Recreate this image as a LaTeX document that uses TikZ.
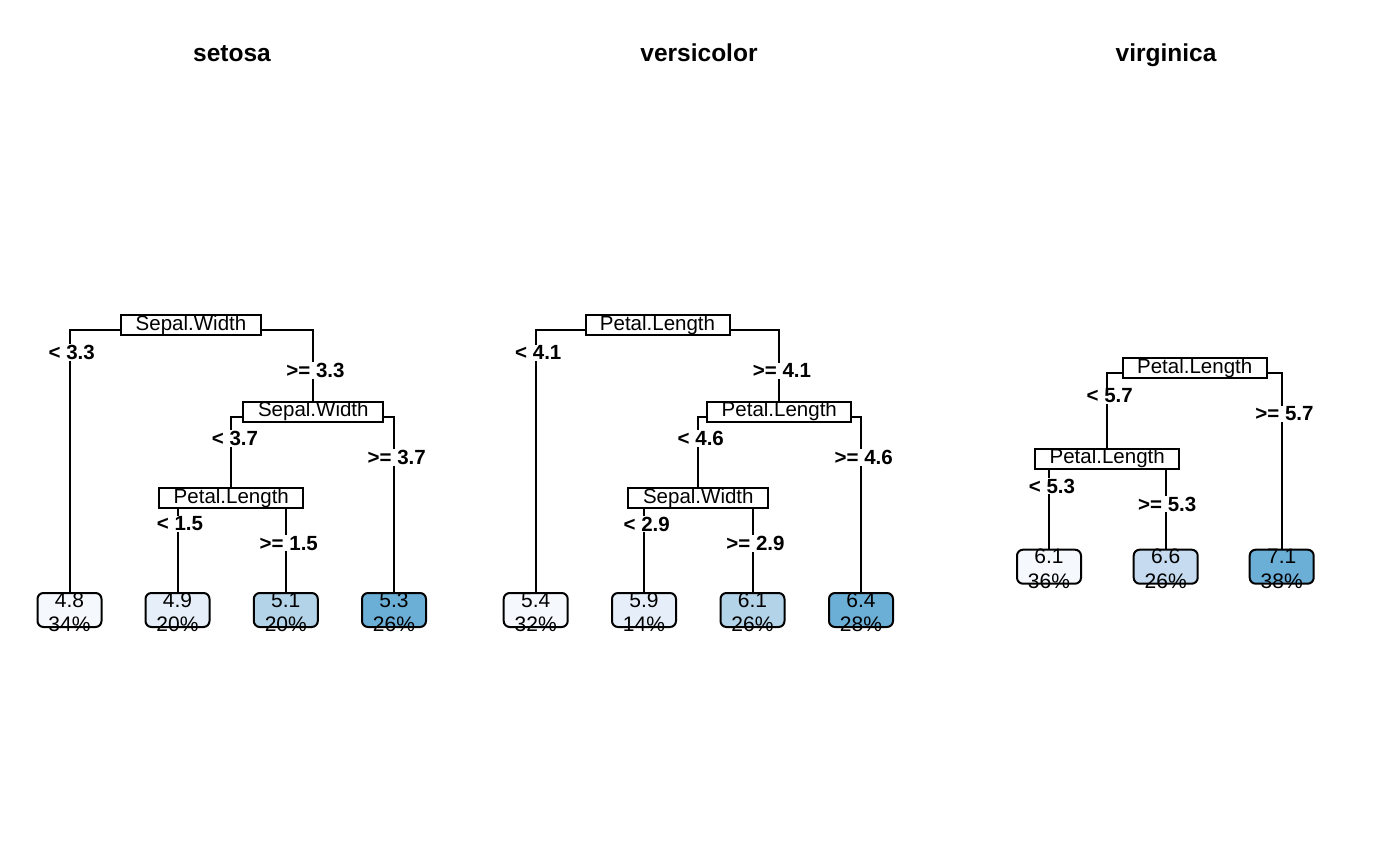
\documentclass[tikz,border=0pt]{standalone}
\usepackage{fontspec}
\setmainfont{Liberation Sans}
\usetikzlibrary{backgrounds}
\definecolor{c1}{HTML}{F5F9FE}
\definecolor{c2}{HTML}{E6EFF9}
\definecolor{c3}{HTML}{B3D3E8}
\definecolor{c4}{HTML}{6BAED6}
\definecolor{c5}{HTML}{C6DBEF}
\tikzset{
  splitbox/.style={draw, line width=2pt, fill=white, inner xsep=0pt, inner ysep=0pt,
    minimum height=20pt, text height=14.5pt, text depth=4pt, font=\fontsize{20.5}{24}\selectfont},
  leafbox/.style={draw, line width=2pt, rounded corners=6pt, minimum width=64pt, minimum height=34pt, inner sep=0pt},
  leaftxt/.style={anchor=base, inner sep=0pt, font=\fontsize{21}{24}\selectfont},
  cond/.style={fill=white, inner xsep=0.5pt, inner ysep=1pt, font=\fontsize{20.5}{24}\bfseries\selectfont},
  ttl/.style={anchor=base, font=\fontsize{24.5}{28}\bfseries\selectfont},
  edge/.style={line width=2pt}
}
\begin{document}
\begin{tikzpicture}[x=1pt,y=-1pt]
\useasboundingbox (0,0) rectangle (1400,866);
% titles
\node[ttl] (t1) at (232,62) {setosa};
\node[ttl] (t2) at (699,62) {versicolor};
\node[ttl] (t3) at (1166,62) {virginica};

% ---------- setosa ----------
\node[splitbox, minimum width=140pt] (s1) at (191,325.5) {Sepal.Width};
\node[splitbox, minimum width=140pt] (s2) at (313.3,411.7) {Sepal.Width};
\node[splitbox, minimum width=144pt] (s3) at (231.3,498) {Petal.Length};
\node[leafbox, fill=c1] (L1) at (69.5,610) {};
\node[leafbox, fill=c2] (L2) at (177.5,610) {};
\node[leafbox, fill=c3] (L3) at (285.8,610) {};
\node[leafbox, fill=c4] (L4) at (394,610) {};
\coordinate (s1j) at ([yshift=-4.5pt]s1.center);
\coordinate (s2j) at ([yshift=-5pt]s2.center);
\coordinate (s3j) at ([yshift=-5pt]s3.center);

% ---------- versicolor ----------
\node[splitbox, minimum width=144pt] (v1) at (657.5,325.5) {Petal.Length};
\node[splitbox, minimum width=144pt] (v2) at (779.3,411.7) {Petal.Length};
\node[splitbox, minimum width=140pt] (v3) at (698.3,498) {Sepal.Width};
\node[leafbox, fill=c1] (V1) at (535.7,610) {};
\node[leafbox, fill=c2] (V2) at (644,610) {};
\node[leafbox, fill=c3] (V3) at (752.5,610) {};
\node[leafbox, fill=c4] (V4) at (861,610) {};
\coordinate (v1j) at ([yshift=-4.5pt]v1.center);
\coordinate (v2j) at ([yshift=-5pt]v2.center);
\coordinate (v3j) at ([yshift=-5pt]v3.center);

% ---------- virginica ----------
\node[splitbox, minimum width=144pt] (g1) at (1194.7,368.3) {Petal.Length};
\node[splitbox, minimum width=144pt] (g2) at (1107.2,458.7) {Petal.Length};
\node[leafbox, fill=c1] (G1) at (1049,566.7) {};
\node[leafbox, fill=c5] (G2) at (1165.7,566.7) {};
\node[leafbox, fill=c4] (G3) at (1281.7,566.7) {};
\coordinate (g1j) at ([yshift=-4.5pt]g1.center);
\coordinate (g2j) at ([yshift=-5pt]g2.center);

\begin{pgfonlayer}{background}
\draw[edge] (s1j) -| (L1.north);
\draw[edge] (s1j) -| (s2.north);
\draw[edge] (s2j) -| (s3.north);
\draw[edge] (s2j) -| (L4.north);
\draw[edge] (s3j) -| (L2.north);
\draw[edge] (s3j) -| (L3.north);
\draw[edge] (v1j) -| (V1.north);
\draw[edge] (v1j) -| (v2.north);
\draw[edge] (v2j) -| (v3.north);
\draw[edge] (v2j) -| (V4.north);
\draw[edge] (v3j) -| (V2.north);
\draw[edge] (v3j) -| (V3.north);
\draw[edge] (g1j) -| (g2.north);
\draw[edge] (g1j) -| (G3.north);
\draw[edge] (g2j) -| (G1.north);
\draw[edge] (g2j) -| (G2.north);
\end{pgfonlayer}

% leaf texts
\node[leaftxt] (L1a) at ([yshift=3pt]L1.center) {4.8};
\node[leaftxt] (L1b) at ([yshift=-21.5pt]L1.center) {34\%};
\node[leaftxt] (L2a) at ([yshift=3pt]L2.center) {4.9};
\node[leaftxt] (L2b) at ([yshift=-21.5pt]L2.center) {20\%};
\node[leaftxt] (L3a) at ([yshift=3pt]L3.center) {5.1};
\node[leaftxt] (L3b) at ([yshift=-21.5pt]L3.center) {20\%};
\node[leaftxt] (L4a) at ([yshift=3pt]L4.center) {5.3};
\node[leaftxt] (L4b) at ([yshift=-21.5pt]L4.center) {26\%};
\node[leaftxt] (V1a) at ([yshift=3pt]V1.center) {5.4};
\node[leaftxt] (V1b) at ([yshift=-21.5pt]V1.center) {32\%};
\node[leaftxt] (V2a) at ([yshift=3pt]V2.center) {5.9};
\node[leaftxt] (V2b) at ([yshift=-21.5pt]V2.center) {14\%};
\node[leaftxt] (V3a) at ([yshift=3pt]V3.center) {6.1};
\node[leaftxt] (V3b) at ([yshift=-21.5pt]V3.center) {26\%};
\node[leaftxt] (V4a) at ([yshift=3pt]V4.center) {6.4};
\node[leaftxt] (V4b) at ([yshift=-21.5pt]V4.center) {28\%};
\node[leaftxt] (G1a) at ([yshift=3pt]G1.center) {6.1};
\node[leaftxt] (G1b) at ([yshift=-21.5pt]G1.center) {36\%};
\node[leaftxt] (G2a) at ([yshift=3pt]G2.center) {6.6};
\node[leaftxt] (G2b) at ([yshift=-21.5pt]G2.center) {26\%};
\node[leaftxt] (G3a) at ([yshift=3pt]G3.center) {7.1};
\node[leaftxt] (G3b) at ([yshift=-21.5pt]G3.center) {38\%};

% condition labels
\node[cond] (c1) at (71.7,352.7) {< 3.3};
\node[cond] (c2) at (315.5,370.7) {>= 3.3};
\node[cond] (c3) at (235,438.3) {< 3.7};
\node[cond] (c4) at (396.7,457.3) {>= 3.7};
\node[cond] (c5) at (180,524) {< 1.5};
\node[cond] (c6) at (288.8,543.3) {>= 1.5};

\node[cond] (d1) at (538.3,352.7) {< 4.1};
\node[cond] (d2) at (782,370.7) {>= 4.1};
\node[cond] (d3) at (700.8,438.3) {< 4.6};
\node[cond] (d4) at (863.7,457.3) {>= 4.6};
\node[cond] (d5) at (646.7,524) {< 2.9};
\node[cond] (d6) at (755.5,543.3) {>= 2.9};

\node[cond] (e1) at (1109.7,395.7) {< 5.7};
\node[cond] (e2) at (1284.5,414) {>= 5.7};
\node[cond] (e3) at (1052,486) {< 5.3};
\node[cond] (e4) at (1167.2,504) {>= 5.3};
\end{tikzpicture}
\end{document}
